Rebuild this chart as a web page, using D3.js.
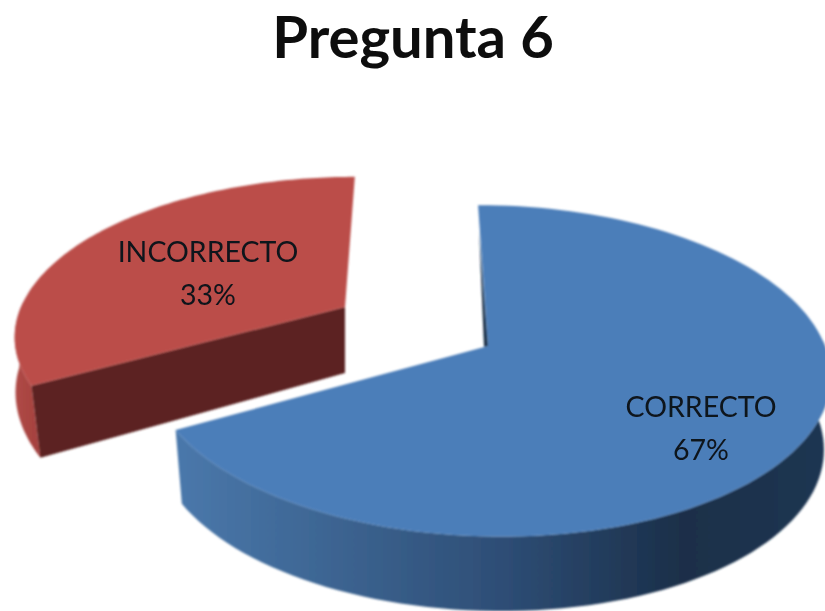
<!DOCTYPE html>
<html><head><meta charset="utf-8">
<script src="https://cdn.jsdelivr.net/npm/d3@7/dist/d3.min.js"></script>
<style>html,body{margin:0;padding:0;background:#fff}svg{display:block}</style>
</head><body><div id="c"></div>
<script>
// data
const chartTitle = "Pregunta 6";
const categories = ["CORRECTO", "INCORRECTO"];
const values = [67, 33];
const percentLabels = ["67%", "33%"];

// layout
const W = 825, H = 611;
const geoms = [
  {cx:488, cy:346, A:337, B:-11.4, C:162, k:0.15, D:73, kd:0.02, s:0.98, s1:0},
  {cx:345, cy:307, A:324, B:11.4,  C:151, k:0.16, D:66, kd:0.17, s:1.01, s1:0.08}
];
const labelPos = [{x:701, y:417}, {x:208, y:262}];
const topCols = ["#4c7eb9", "#bb4d4a"];

const svg = d3.select("#c").append("svg").attr("width",W).attr("height",H);
const defs = svg.append("defs");
const soft = defs.append("filter").attr("id","soft").attr("x","-5%").attr("y","-5%").attr("width","110%").attr("height","110%");
soft.append("feGaussianBlur").attr("stdDeviation",1);
const softT = defs.append("filter").attr("id","softT").attr("x","-5%").attr("y","-10%").attr("width","110%").attr("height","120%");
softT.append("feGaussianBlur").attr("stdDeviation",0.7);
const gradB = defs.append("linearGradient").attr("id","sideB").attr("gradientUnits","userSpaceOnUse")
  .attr("x1",176).attr("x2",825).attr("y1",0).attr("y2",0);
[[0,"#4a78ab"],[0.2,"#3f6896"],[0.5,"#2e4e76"],[0.78,"#1b2f49"],[1,"#1f3652"]]
  .forEach(([o,c])=>gradB.append("stop").attr("offset",o).attr("stop-color",c));
const gradR = defs.append("linearGradient").attr("id","sideR").attr("gradientUnits","userSpaceOnUse")
  .attr("x1",13).attr("x2",45).attr("y1",0).attr("y2",0);
[[0,"#b04a47"],[1,"#a23f3c"]].forEach(([o,c])=>gradR.append("stop").attr("offset",o).attr("stop-color",c));
const sideFills = ["url(#sideB)","url(#sideR)"];
const wallFills = ["#1b3049","#5c2320"];

const arcs = d3.pie().sort(null).value(d=>d)(values);

function project(g, a, r, lower){
  const u = r*Math.sin(a), v = r*Math.cos(a), w = 1 + g.k*v;
  const dx = (g.A*u + g.B*v)/w, dy = -g.C*v/w;
  const s = g.s + g.s1*v;
  return [g.cx + dx*(lower ? s : 1), g.cy + dy + (lower ? g.D/(1 + g.kd*v) : 0)];
}
const line = d3.line();
const ringAngles = (a0,a1)=>d3.range(0,121).map(i=>a0+(a1-a0)*i/120);

const root = svg.append("g").attr("filter","url(#soft)");
[1,0].forEach(i=>{
  const g = geoms[i], d = arcs[i];
  const ang = ringAngles(d.startAngle,d.endAngle);
  const gp = root.append("g").attr("class","slice");
  const topRing = ang.map(a=>project(g,a,1,false));
  // only the front-facing part of the rim is visible
  const front = ang.filter(a=>Math.cos(a)<0.05);
  gp.append("path")
    .attr("d",line(front.map(a=>project(g,a,1,false)).concat(front.map(a=>project(g,a,1,true)).reverse()))+"Z")
    .attr("fill",sideFills[i]);
  if(i===1){
    const a = d.startAngle;
    gp.append("path").attr("d",line([project(g,a,1,false),[g.cx,g.cy],[g.cx,g.cy+g.D],project(g,a,1,true)])+"Z")
      .attr("fill",wallFills[i]);
  }
  gp.append("path").attr("d",line([[g.cx,g.cy]].concat(topRing))+"Z").attr("fill",topCols[i]);
  if(i===0){
    // thin visible inner wall at the top of the slice
    const p0 = project(g,0,1,false);
    gp.append("path").attr("d",line([[p0[0]+1,p0[1]+25],[g.cx,g.cy],[g.cx-4,g.cy+1]])+"Z").attr("fill",wallFills[i]);
    gp.append("path").attr("d",line([p0,[p0[0]+1,p0[1]+25],[g.cx-4,g.cy+1]])+"Z").attr("fill","#3d668f");
  }
});

const textG = svg.append("g").attr("filter","url(#softT)");
textG.append("text").attr("x",413).attr("y",58).attr("text-anchor","middle")
  .attr("font-family","Lato").attr("font-weight",700).attr("font-size",58).attr("fill","#0a0a0a").text(chartTitle);
categories.forEach((c,i)=>{
  const t = textG.append("g").attr("font-family","Lato").attr("font-size",28.5).attr("fill","#10131a").attr("text-anchor","middle");
  t.append("text").attr("x",labelPos[i].x).attr("y",labelPos[i].y).text(c);
  t.append("text").attr("x",labelPos[i].x).attr("y",labelPos[i].y+43).text(percentLabels[i]);
});
</script></body></html>
